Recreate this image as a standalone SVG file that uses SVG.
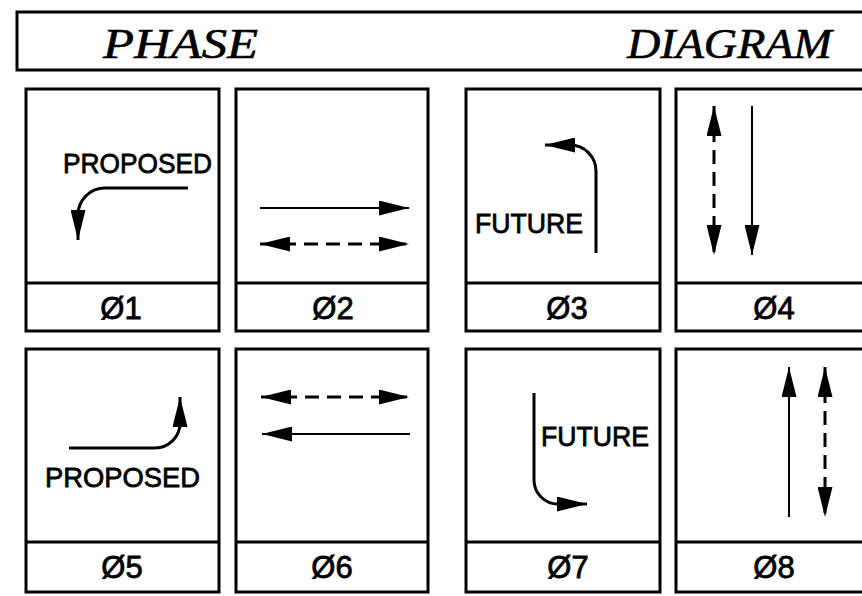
<svg xmlns="http://www.w3.org/2000/svg" width="862" height="596" viewBox="0 0 862 596">
  <style>
    .frame { fill: #fff; stroke: #000; stroke-width: 3; }
    .div { stroke: #000; stroke-width: 3; }
    .lbl { font-family: "Liberation Sans", Arial, sans-serif; font-size: 31px; text-anchor: middle; fill: #000; stroke: #000; stroke-width: 0.8; }
    .note { font-family: "Liberation Sans", Arial, sans-serif; font-size: 28px; fill: #000; stroke: #000; stroke-width: 0.8; }
    .title { font-family: "Liberation Serif", "Times New Roman", serif; font-style: italic; font-size: 42px; fill: #000; stroke: #000; stroke-width: 0.6; }
    .solid { fill: none; stroke: #000; stroke-width: 2; marker-end: url(#ah); }
    .curve { fill: none; stroke: #000; stroke-width: 3; marker-end: url(#ah); }
    .dash { fill: none; stroke: #000; stroke-width: 3; stroke-dasharray: 14 8; marker-start: url(#ah); marker-end: url(#ah); }
  </style>
  <defs>
    <marker id="ah" markerUnits="userSpaceOnUse" viewBox="0 0 30 15" refX="30" refY="7.5" markerWidth="30" markerHeight="15" orient="auto-start-reverse">
      <path d="M0,0 L30,7.5 L0,15 Z" fill="#000"/>
    </marker>
  </defs>
  <rect width="862" height="596" fill="#fff"/>

  <g id="title">
    <rect class="frame" x="17" y="12" width="860" height="58"/>
    <text class="title" x="103" y="58" textLength="155" lengthAdjust="spacingAndGlyphs">PHASE</text>
    <text class="title" x="627" y="58" textLength="205" lengthAdjust="spacingAndGlyphs">DIAGRAM</text>
  </g>

  <g id="phase1">
    <rect class="frame" x="26" y="89" width="193" height="242"/>
    <line class="div" x1="26" y1="283" x2="219" y2="283"/>
    <text class="lbl" x="121" y="319">Ø1</text>
    <text class="note" x="63" y="173" textLength="149" lengthAdjust="spacingAndGlyphs">PROPOSED</text>
    <path class="curve" d="M188,188 H105 A27,27 0 0 0 78,215 V240"/>
  </g>

  <g id="phase2">
    <rect class="frame" x="236" y="89" width="192" height="242"/>
    <line class="div" x1="236" y1="283" x2="428" y2="283"/>
    <text class="lbl" x="333" y="319">Ø2</text>
    <path class="solid" d="M260,208 H409"/>
    <path class="dash" d="M260,244 H409"/>
  </g>

  <g id="phase3">
    <rect class="frame" x="466" y="89" width="194" height="242"/>
    <line class="div" x1="466" y1="283" x2="660" y2="283"/>
    <text class="lbl" x="567" y="319">Ø3</text>
    <text class="note" x="475" y="233" textLength="108" lengthAdjust="spacingAndGlyphs">FUTURE</text>
    <path class="curve" d="M596,253 V171 A26,26 0 0 0 570,145 H545"/>
  </g>

  <g id="phase4">
    <rect class="frame" x="676" y="89" width="196" height="242"/>
    <line class="div" x1="676" y1="283" x2="872" y2="283"/>
    <text class="lbl" x="774" y="319">Ø4</text>
    <path class="dash" d="M714,106 V255"/>
    <path class="solid" d="M752,106 V255"/>
  </g>

  <g id="phase5">
    <rect class="frame" x="26" y="349" width="193" height="243"/>
    <line class="div" x1="26" y1="542" x2="219" y2="542"/>
    <text class="lbl" x="122" y="578">Ø5</text>
    <text class="note" x="45" y="487" textLength="155" lengthAdjust="spacingAndGlyphs">PROPOSED</text>
    <path class="curve" d="M69,448 H155 A25,25 0 0 0 180,423 V397"/>
  </g>

  <g id="phase6">
    <rect class="frame" x="236" y="349" width="192" height="243"/>
    <line class="div" x1="236" y1="542" x2="428" y2="542"/>
    <text class="lbl" x="332" y="578">Ø6</text>
    <path class="dash" d="M261,397 H409"/>
    <path class="solid" d="M410,434 H262"/>
  </g>

  <g id="phase7">
    <rect class="frame" x="466" y="349" width="194" height="243"/>
    <line class="div" x1="466" y1="542" x2="660" y2="542"/>
    <text class="lbl" x="568" y="578">Ø7</text>
    <text class="note" x="541" y="446" textLength="108" lengthAdjust="spacingAndGlyphs">FUTURE</text>
    <path class="curve" d="M534,393 V480 A24,24 0 0 0 558,504 H587"/>
  </g>

  <g id="phase8">
    <rect class="frame" x="676" y="349" width="196" height="243"/>
    <line class="div" x1="676" y1="542" x2="872" y2="542"/>
    <text class="lbl" x="774" y="578">Ø8</text>
    <path class="solid" d="M789,517 V367"/>
    <path class="dash" d="M825,367 V517"/>
  </g>
</svg>
